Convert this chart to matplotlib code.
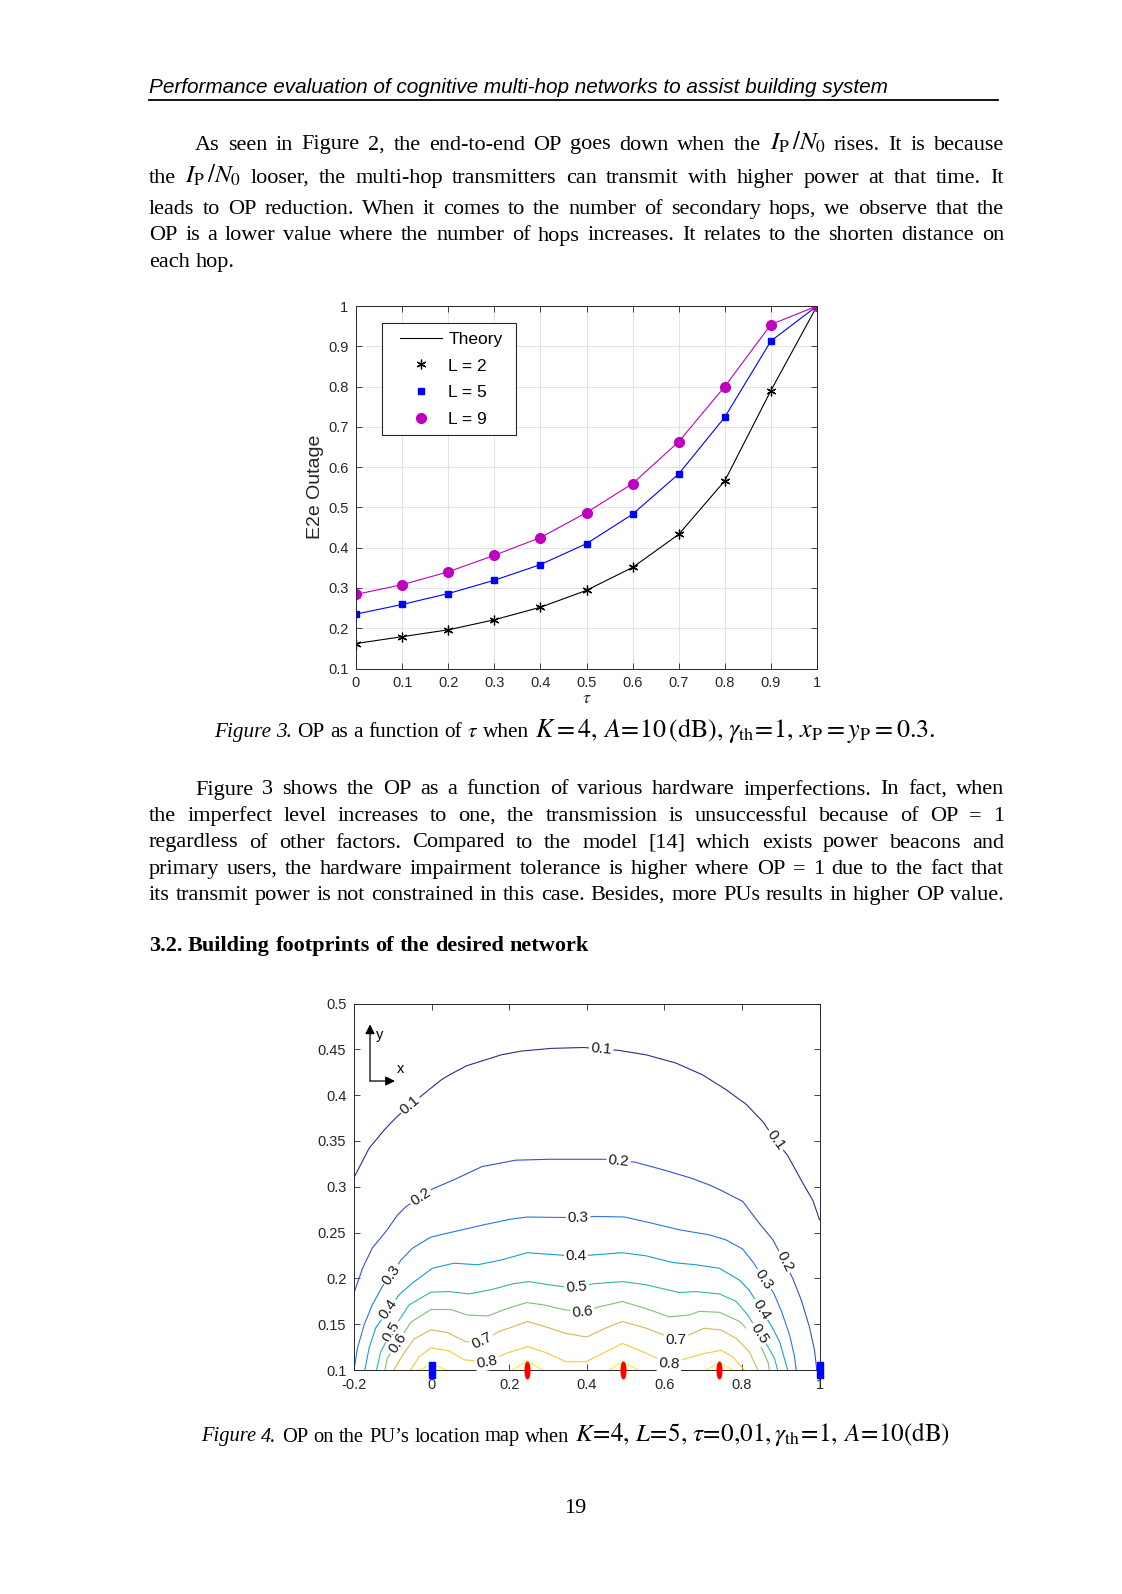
import numpy as np
import matplotlib.pyplot as plt
from matplotlib.lines import Line2D
from matplotlib.patches import Rectangle
from matplotlib.path import Path

W, H = 1122, 1594
plt.rcParams['mathtext.fontset'] = 'stix'
plt.rcParams['font.family'] = ['Liberation Sans', 'DejaVu Sans']

# ---------------- Figure 3 data: OP versus tau ----------------
tau = [0, 0.1, 0.2, 0.3, 0.4, 0.5, 0.6, 0.7, 0.8, 0.9, 1.0]
op_L2 = [0.162, 0.179, 0.196, 0.221, 0.252, 0.294, 0.351, 0.433, 0.566, 0.790, 1.0]
op_L5 = [0.235, 0.259, 0.286, 0.319, 0.358, 0.410, 0.483, 0.583, 0.724, 0.913, 1.0]
op_L9 = [0.284, 0.308, 0.340, 0.381, 0.425, 0.487, 0.559, 0.663, 0.800, 0.954, 1.0]
tau_ticks = [0, 0.1, 0.2, 0.3, 0.4, 0.5, 0.6, 0.7, 0.8, 0.9, 1.0]
tau_labels = ['0', '0.1', '0.2', '0.3', '0.4', '0.5', '0.6', '0.7', '0.8', '0.9', '1']
op_ticks = [0.1, 0.2, 0.3, 0.4, 0.5, 0.6, 0.7, 0.8, 0.9, 1.0]
op_labels = ['0.1', '0.2', '0.3', '0.4', '0.5', '0.6', '0.7', '0.8', '0.9', '1']

# ---------------- Figure 4 data: OP contour lines over PU position ----------------
lv01_x = [-0.2, -0.161, -0.122, -0.088, -0.052, -0.024, 0.026, 0.05, 0.09, 0.135, 0.18, 0.23, 0.308,
          0.394, 0.44, 0.48, 0.553, 0.63, 0.699, 0.759, 0.811, 0.854, 0.888, 0.918, 0.957, 0.983, 1.0]
lv01_y = [0.310, 0.342, 0.362, 0.377, 0.390, 0.400, 0.417, 0.423, 0.432, 0.438, 0.444, 0.448, 0.451,
          0.452, 0.450, 0.449, 0.444, 0.435, 0.422, 0.406, 0.390, 0.371, 0.350, 0.334, 0.304, 0.285, 0.264]
lv02_x = [-0.2, -0.178, -0.153, -0.118, -0.088, -0.067, -0.028, 0.002, 0.058, 0.13, 0.217, 0.304, 0.445,
          0.482, 0.523, 0.596, 0.665, 0.716, 0.742, 0.802, 0.845, 0.880, 0.910, 0.931, 0.953, 0.974, 0.987, 0.993]
lv02_y = [0.184, 0.211, 0.233, 0.251, 0.269, 0.278, 0.289, 0.2975, 0.3077, 0.322, 0.329, 0.330, 0.330,
          0.328, 0.327, 0.3186, 0.31, 0.302, 0.297, 0.284, 0.260, 0.242, 0.218, 0.200, 0.1765, 0.147, 0.122, 0.1]
lv03_x = [-0.2, -0.191, -0.174, -0.153, -0.127, -0.103, -0.079, -0.049, -0.002, 0.058, 0.135, 0.204, 0.247,
          0.325, 0.38, 0.424, 0.497, 0.57, 0.639, 0.716, 0.759, 0.802, 0.830, 0.857, 0.882, 0.903, 0.923, 0.935, 0.94]
lv03_y = [0.1, 0.124, 0.149, 0.171, 0.191, 0.204, 0.220, 0.233, 0.245, 0.251, 0.2585, 0.2646, 0.267,
          0.2665, 0.2665, 0.2676, 0.267, 0.260, 0.253, 0.2475, 0.242, 0.232, 0.217, 0.199, 0.184, 0.163, 0.138, 0.116, 0.1]
lv04_x = [-0.172, -0.161, -0.144, -0.111, -0.084, -0.049, 0.002, 0.058, 0.118, 0.179, 0.247, 0.325, 0.372,
          0.419, 0.492, 0.553, 0.621, 0.682, 0.742, 0.794, 0.819, 0.849, 0.875, 0.897, 0.918]
lv04_y = [0.1, 0.124, 0.146, 0.166, 0.182, 0.195, 0.211, 0.2166, 0.2148, 0.220, 0.228, 0.2257, 0.224,
          0.2257, 0.228, 0.2246, 0.2173, 0.2148, 0.211, 0.198, 0.187, 0.166, 0.149, 0.131, 0.1]
lv05_x = [-0.142, -0.131, -0.103, -0.058, -0.002, 0.045, 0.097, 0.157, 0.209, 0.25, 0.303, 0.338, 0.374,
          0.415, 0.492, 0.553, 0.639, 0.682, 0.742, 0.785, 0.815, 0.845, 0.867, 0.884, 0.892]
lv05_y = [0.1, 0.120, 0.142, 0.171, 0.185, 0.1856, 0.183, 0.188, 0.194, 0.1965, 0.193, 0.191, 0.190,
          0.194, 0.1965, 0.193, 0.1845, 0.1856, 0.183, 0.175, 0.160, 0.140, 0.1255, 0.1128, 0.1]
lv06_x = [-0.12, -0.114, -0.088, -0.054, -0.002, 0.05, 0.092, 0.145, 0.194, 0.245, 0.29, 0.34, 0.389,
          0.432, 0.492, 0.553, 0.613, 0.665, 0.69, 0.742, 0.794, 0.819, 0.849, 0.867, 0.871]
lv06_y = [0.1, 0.113, 0.129, 0.152, 0.166, 0.166, 0.160, 0.159, 0.167, 0.1736, 0.171, 0.166, 0.163,
          0.169, 0.1747, 0.167, 0.158, 0.160, 0.164, 0.163, 0.153, 0.142, 0.1255, 0.109, 0.1]
lv07_x = [-0.097, -0.075, -0.045, -0.002, 0.04, 0.088, 0.125, 0.174, 0.209, 0.247, 0.295, 0.346, 0.40,
          0.45, 0.492, 0.553, 0.63, 0.673, 0.703, 0.746, 0.785, 0.819, 0.841]
lv07_y = [0.1, 0.116, 0.134, 0.1437, 0.141, 0.131, 0.130, 0.142, 0.147, 0.153, 0.147, 0.140, 0.136,
          0.146, 0.153, 0.1456, 0.133, 0.140, 0.1456, 0.1437, 0.1346, 0.12, 0.1]
lv08_x = [-0.054, -0.032, -0.002, 0.045, 0.085, 0.144, 0.191, 0.247, 0.295, 0.346, 0.398, 0.45, 0.492,
          0.544, 0.613, 0.673, 0.703, 0.746, 0.776, 0.806]
lv08_y = [0.1, 0.1146, 0.124, 0.121, 0.111, 0.109, 0.118, 0.1255, 0.119, 0.109, 0.109, 0.120, 0.129,
          0.12, 0.107, 0.1146, 0.118, 0.1215, 0.1146, 0.1]
lv09_x = [-0.032, 0.002, 0.037, np.nan, 0.209, 0.247, 0.286, np.nan, 0.458, 0.494, 0.531, np.nan, 0.708, 0.742, 0.776]
lv09_y = [0.1, 0.1065, 0.1, np.nan, 0.1, 0.110, 0.1, np.nan, 0.1, 0.109, 0.1, np.nan, 0.1, 0.108, 0.1]

levels = [0.1, 0.2, 0.3, 0.4, 0.5, 0.6, 0.7, 0.8, 0.9]
level_lines = [(lv01_x, lv01_y), (lv02_x, lv02_y), (lv03_x, lv03_y), (lv04_x, lv04_y), (lv05_x, lv05_y),
               (lv06_x, lv06_y), (lv07_x, lv07_y), (lv08_x, lv08_y), (lv09_x, lv09_y)]
label_at = [[-0.055, 0.437, 0.887], [-0.028, 0.482, 0.910], [-0.103, 0.378, 0.857],
            [-0.111, 0.372, 0.849], [-0.103, 0.374, 0.845], [-0.088, 0.389],
            [0.131, 0.630], [0.144, 0.613], []]
parula = ['#352a87', '#3a4ed2', '#2a76e0', '#12a0d0', '#2eb7a4', '#80bf78', '#cfbb5a', '#f4cb38', '#f5f312']

map_xticks = [-0.2, 0, 0.2, 0.4, 0.6, 0.8, 1.0]
map_xlabels = ['-0.2', '0', '0.2', '0.4', '0.6', '0.8', '1']
map_yticks = [0.1, 0.15, 0.2, 0.25, 0.3, 0.35, 0.4, 0.45, 0.5]
map_ylabels = ['0.1', '0.15', '0.2', '0.25', '0.3', '0.35', '0.4', '0.45', '0.5']
pu_x = [0.246, 0.494, 0.742]
pu_y = [0.1, 0.1, 0.1]
su_x = [0, 1]
su_y = [0.1, 0.1]

fig = plt.figure(figsize=(W / 100, H / 100), dpi=100)
rend = fig.canvas.get_renderer()


def axes_px(left, top, right, bottom):
    return fig.add_axes([left / W, 1 - bottom / H, (right - left) / W, (bottom - top) / H])


def style_box(ax):
    for s in ax.spines.values():
        s.set_color('#262626')
        s.set_linewidth(0.7)
    ax.tick_params(direction='in', top=True, right=True, length=4, width=0.6,
                   colors='#262626', labelsize=10.5, pad=5.5)


# ---------------- Figure 3 ----------------
star = (6, 2, 0)
ax1 = axes_px(356, 306, 817, 668.5)
ax1.plot(tau, op_L2, color='black', lw=0.8, marker=star, ms=7, mew=0.9)
ax1.plot(tau, op_L5, color='blue', lw=0.8, marker='s', ms=4.8, mec='blue')
ax1.plot(tau, op_L9, color='#bf00bf', lw=0.8, marker='o', ms=7, mec='#bf00bf')
ax1.set_xlim(0, 1)
ax1.set_ylim(0.1, 1)
ax1.set_xticks(tau_ticks, tau_labels)
ax1.set_yticks(op_ticks, op_labels)
ax1.grid(True, color='#e3e3e3', lw=0.7)
ax1.set_axisbelow(True)
style_box(ax1)
ax1.text(-0.087, 0.5, 'E2e Outage', transform=ax1.transAxes, rotation=90,
         ha='center', va='center', fontsize=14, color='#262626')
ax1.text(0.5, -0.084, r'$\tau$', transform=ax1.transAxes, ha='center', va='center',
         fontsize=13, color='#262626')
# MATLAB-style legend box, entries placed inside it
ax1.add_patch(Rectangle((0.0564, 0.644), 0.2906, 0.309, transform=ax1.transAxes, fc='white',
                        ec='#262626', lw=0.8, zorder=4.5))
handles = [Line2D([], [], color='black', lw=0.8),
           Line2D([], [], ls='none', color='black', marker=star, ms=7, mew=0.9),
           Line2D([], [], ls='none', color='blue', marker='s', ms=4.8),
           Line2D([], [], ls='none', color='#bf00bf', marker='o', ms=7)]
leg = ax1.legend(handles, ['Theory', 'L = 2', 'L = 5', 'L = 9'], loc='upper left',
                 bbox_to_anchor=(0.0965, 0.929), borderaxespad=0, borderpad=0, frameon=False,
                 fontsize=12.5, handlelength=2.4, handletextpad=0.35, labelspacing=0.66)
leg.set_zorder(5)

# ---------------- Figure 4 ----------------
ax2 = axes_px(354, 1003.5, 819.5, 1370)
ax2.set_xlim(-0.2, 1)
ax2.set_ylim(0.1, 0.5)
ax2.set_xticks(map_xticks, map_xlabels)
ax2.set_yticks(map_yticks, map_ylabels)
style_box(ax2)

for lv, (xs, ys), col, labx in zip(levels, level_lines, parula, label_at):
    ax2.plot(xs, ys, color=col, lw=0.8, zorder=2)
    for xl in labx:
        yl = np.interp(xl, xs, ys)
        p0 = ax2.transData.transform((xl - 0.008, np.interp(xl - 0.008, xs, ys)))
        p1 = ax2.transData.transform((xl + 0.008, np.interp(xl + 0.008, xs, ys)))
        ang = np.degrees(np.arctan2(p1[1] - p0[1], p1[0] - p0[0]))
        ax2.text(xl, yl, f'{lv:g}', rotation=ang, rotation_mode='anchor', ha='center', va='center',
                 fontsize=11, color='#1a1a1a', zorder=3,
                 bbox=dict(fc='white', ec='none', pad=1.2))

ellipse = Path(Path.unit_circle().vertices * [0.28, 1.0], Path.unit_circle().codes)
bar = Path([(-0.32, -1), (0.32, -1), (0.32, 1), (-0.32, 1), (-0.32, -1)])
ax2.plot(pu_x, pu_y, ls='none', marker=ellipse, ms=12, color='red', clip_on=False, zorder=5)
ax2.plot(su_x, su_y, ls='none', marker=bar, ms=11.5, color='blue', clip_on=False, zorder=5)

arrow = dict(arrowstyle='-|>', color='black', lw=0.9, mutation_scale=14, shrinkA=0, shrinkB=0)
ax2.annotate('', xy=(0.0344, 0.943), xytext=(0.0344, 0.7885), xycoords='axes fraction', arrowprops=arrow)
ax2.annotate('', xy=(0.088, 0.7885), xytext=(0.0344, 0.7885), xycoords='axes fraction', arrowprops=arrow)
ax2.text(0.056, 0.914, 'y', transform=ax2.transAxes, ha='center', va='center', fontsize=10.5)
ax2.text(0.099, 0.821, 'x', transform=ax2.transAxes, ha='center', va='center', fontsize=10.5)


# ---------------- page text ----------------
SERIF = 'Liberation Serif'


def put(x, y, s, **kw):
    kw.setdefault('family', SERIF)
    return fig.text(x / W, 1 - y / H, s, **kw)


def text_line(runs, y, x0, x1, fs, mode='justify'):
    objs = []
    for r in runs:
        s, kw = (r, {}) if isinstance(r, str) else r
        kw = dict(kw)
        size = kw.pop('scale', 1.0) * fs
        objs.append(put(0, y, s, fontsize=size, va='baseline', **kw))
    widths = [o.get_window_extent(rend).width for o in objs]
    if mode == 'justify' and len(objs) > 1:
        gap = (x1 - x0 - sum(widths)) / (len(objs) - 1)
    else:
        gap = fs * 0.25 * 100 / 72
    total = sum(widths) + gap * (len(objs) - 1)
    x = (x0 + x1) / 2 - total / 2 if mode == 'center' else x0
    for o, w in zip(objs, widths):
        o.set_x(x / W)
        x += w + gap
    return objs, total


def fit_size(runs, target, fs0=14):
    objs, total = text_line(runs, 0, 0, 1, fs0, mode='left')
    for o in objs:
        o.remove()
    return fs0 * target / total


ipn = (r'$I_{\mathrm{P}}\,/N_0$', {'scale': 1.12})
it = {'style': 'italic'}
big = {'scale': 1.22}

p1 = [
    (['As', 'seen', 'in', 'Figure', '2,', 'the', 'end-to-end', 'OP', 'goes', 'down', 'when', 'the', ipn,
      'rises.', 'It', 'is', 'because'], 149.5, 195, 'justify'),
    (['the', ipn, 'looser,', 'the', 'multi-hop', 'transmitters', 'can', 'transmit', 'with', 'higher',
      'power', 'at', 'that', 'time.', 'It'], 183, 149, 'justify'),
    ('leads to OP reduction. When it comes to the number of secondary hops, we observe that the'.split(),
     214, 149, 'justify'),
    ('OP is a lower value where the number of hops increases. It relates to the shorten distance on'.split(),
     240.5, 149, 'justify'),
    ('each hop.'.split(), 267, 149, 'left'),
]
p2 = [
    ('Figure 3 shows the OP as a function of various hardware imperfections. In fact, when'.split(),
     794.5, 195, 'justify'),
    ('the imperfect level increases to one, the transmission is unsuccessful because of OP = 1'.split(),
     821, 149, 'justify'),
    ('regardless of other factors. Compared to the model [14] which exists power beacons and'.split(),
     847.5, 149, 'justify'),
    ('primary users, the hardware impairment tolerance is higher where OP = 1 due to the fact that'.split(),
     874, 149, 'justify'),
    ('its transmit power is not constrained in this case. Besides, more PUs results in higher OP value.'.split(),
     900, 149, 'justify'),
]

# largest body size for which every justified line still fits its measure
fs_body = min(fit_size(runs, 1004 - x0) for runs, y, x0, mode in p1 + p2 if mode == 'justify')
for runs, y, x0, mode in p1 + p2:
    text_line(runs, y, x0, 1004, fs_body, mode)

bold = {'weight': 'bold'}
text_line([(w, bold) for w in '3.2. Building footprints of the desired network'.split()],
          951, 149, 1004, fs_body, 'left')

cap3 = [('Figure', it), ('3.', it), 'OP', 'as', 'a', 'function', 'of', r'$\tau$', 'when',
        (r'$K=4,$', big), (r'$A\!=\!10\,(\mathrm{dB}),$', big), (r'$\gamma_{\mathrm{th}}\!=\!1,$', big),
        (r'$x_{\mathrm{P}}=y_{\mathrm{P}}=0.3.$', big)]
text_line(cap3, 737, 213, 936, fit_size(cap3, 723), 'center')

cap4 = [('Figure', it), ('4.', it), 'OP', 'on', 'the', 'PU’s', 'location', 'map', 'when',
        (r'$K\!=\!4,$', big), (r'$L\!=\!5,$', big), (r'$\tau\!=\!0{,}01,\gamma_{\mathrm{th}}\!=\!1,$', big),
        (r'$A\!=\!10(\mathrm{dB})$', big)]
text_line(cap4, 1441.5, 200, 951, fit_size(cap4, 751), 'center')

header = 'Performance evaluation of cognitive multi-hop networks to assist building system'
hd = fig.text(149 / W, 1 - 93 / H, header, family='Liberation Sans', style='italic', fontsize=14,
              va='baseline')
hd.set_fontsize(14 * 743 / hd.get_window_extent(rend).width)
fig.add_artist(Line2D([149 / W, 998 / W], [1 - 99.5 / H, 1 - 99.5 / H], color='black', lw=1.3))

put(575, 1513, '19', fontsize=fs_body, ha='center', va='baseline')

fig.savefig('out.png', dpi=100)
